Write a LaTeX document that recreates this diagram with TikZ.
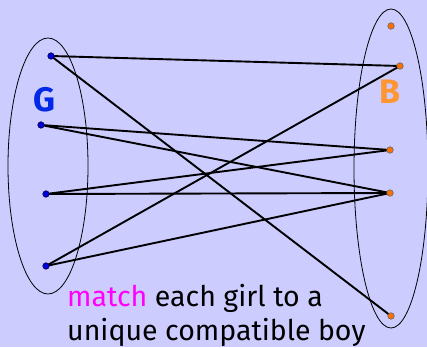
\documentclass[tikz,border=0pt]{standalone}
\usepackage{fontspec}
\setmainfont{Fira Sans}
\definecolor{bg}{RGB}{204,204,255}
\definecolor{gblue}{RGB}{0,40,230}
\definecolor{borange}{RGB}{255,150,50}
\definecolor{dotor}{RGB}{255,110,0}
\definecolor{mag}{RGB}{255,0,255}
\begin{document}
\begin{tikzpicture}[x=1pt,y=-1pt,
  girl/.style={circle,draw=black!70!blue,fill=blue!85!black,inner sep=0pt,minimum size=6.5pt,line width=0.6pt},
  boy/.style={circle,draw=black!60,fill=dotor,inner sep=0pt,minimum size=6.5pt,line width=0.6pt},
  edge/.style={line width=1.9pt,black},
  setell/.style={draw=black,line width=0.8pt},
  lbl/.style={font=\fontsize{34}{34}\selectfont\bfseries},
  txt/.style={anchor=base west,inner sep=0pt,font=\fontsize{28.5}{34}\selectfont}]
\fill[bg] (0,0) rectangle (427,347);
\useasboundingbox (0,0) rectangle (427,347);
\draw[setell] (48,166) ellipse [x radius=40, y radius=128];
\draw[setell] (391,168.5) ellipse [x radius=37, y radius=159.5];
\node[lbl,text=gblue] (G) at (44,100) {G};
\node[lbl,text=borange] (B) at (390,92) {B};
\node (g1) at (51,56) {};
\node (g2) at (41,125) {};
\node (g3) at (46,194) {};
\node (g4) at (46,266) {};
\node (b0) at (391,26) {};
\node (b1) at (400,66) {};
\node (b2) at (390,150) {};
\node (b3) at (390,193) {};
\node (b4) at (391,316) {};
\draw[edge] (g1.center) -- (b1.center);
\draw[edge] (g1.center) -- (b4.center);
\draw[edge] (g2.center) -- (b2.center);
\draw[edge] (g2.center) -- (b3.center);
\draw[edge] (g3.center) -- (b2.center);
\draw[edge] (g3.center) -- (b3.center);
\draw[edge] (g4.center) -- (b1.center);
\draw[edge] (g4.center) -- (b3.center);
\foreach \n in {g1,g2,g3,g4} \node[girl] at (\n) {};
\foreach \n in {b0,b1,b2,b3,b4} \node[boy] at (\n) {};
\node[txt] (t1) at (67,306) {\textcolor{mag}{match} each girl to a};
\node[txt] (t2) at (67,340) {unique compatible boy};
\end{tikzpicture}
\end{document}
